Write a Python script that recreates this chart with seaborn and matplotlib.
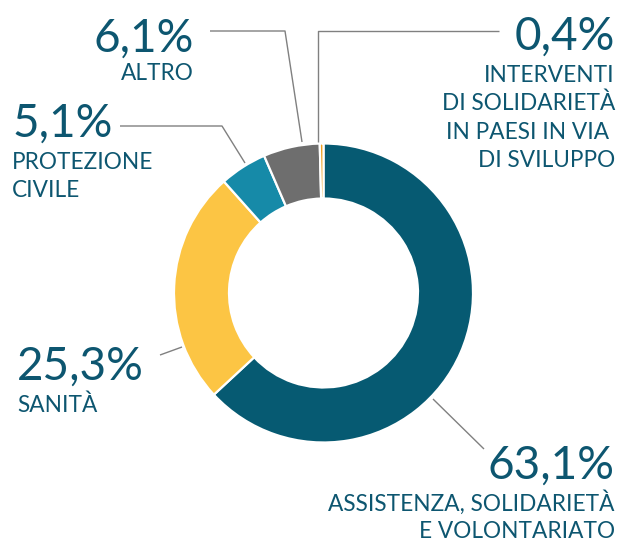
import seaborn as sns
import matplotlib.pyplot as plt

# Ripartizione per settore (valori in %)
categories = ['ASSISTENZA, SOLIDARIETÀ\nE VOLONTARIATO', 'SANITÀ', 'PROTEZIONE\nCIVILE',
              'ALTRO', 'INTERVENTI\nDI SOLIDARIETÀ\nIN PAESI IN VIA \nDI SVILUPPO']
values = [63.1, 25.3, 5.1, 6.1, 0.4]
colors = ['#065a72', '#fcc544', '#168aa8', '#6e6e6e', '#f0a020']

sns.set_theme(style='white')
plt.rcParams['font.family'] = ['Lato', 'DejaVu Sans']

W, H = 621, 541
fig = plt.figure(figsize=(W / 100, H / 100), dpi=100)
ax = fig.add_axes([0, 0, 1, 1])

R = 149.5
ax.pie(values, colors=colors, startangle=90, counterclock=False,
       center=(323.5, H - 293), radius=R,
       wedgeprops=dict(width=R * 0.368, edgecolor='white', linewidth=1.6))
ax.set_aspect('equal')
ax.set_xlim(0, W)
ax.set_ylim(0, H)
ax.axis('off')

txt = '#0d5670'
line_c = '#808080'

# label layout: (x, baseline of number, gap to first line, line step, ha, leader polyline in pixels)
layout = [
    (615, 479, 32, 27, 'right', [(433, 399), (484, 449)]),
    (17, 380, 32, 28.3, 'left', [(182, 347), (160, 355)]),
    (12, 137, 32, 28.3, 'left', [(245, 163), (222, 126), (120, 126)]),
    (194, 52, 28, 28.3, 'right', [(302, 142), (285, 31), (210, 31)]),
    (615, 50, 32, 28.3, 'right', [(318, 142), (318, 31), (499, 31)]),
]

for cat, val, (x, y, gap, step, ha, pts) in zip(categories, values, layout):
    pct = f'{val:.1f}%'.replace('.', ',')
    ax.text(x, H - y, pct, ha=ha, va='baseline', fontsize=33, color=txt)
    for i, line in enumerate(cat.split('\n')):
        yy = y + gap + i * step
        ax.text(x, H - yy, line, ha=ha, va='baseline', fontsize=16.3, color=txt)
    ax.plot([p[0] for p in pts], [H - p[1] for p in pts], color=line_c, lw=1.0,
            solid_capstyle='butt')

fig.savefig('out.png', dpi=100)
